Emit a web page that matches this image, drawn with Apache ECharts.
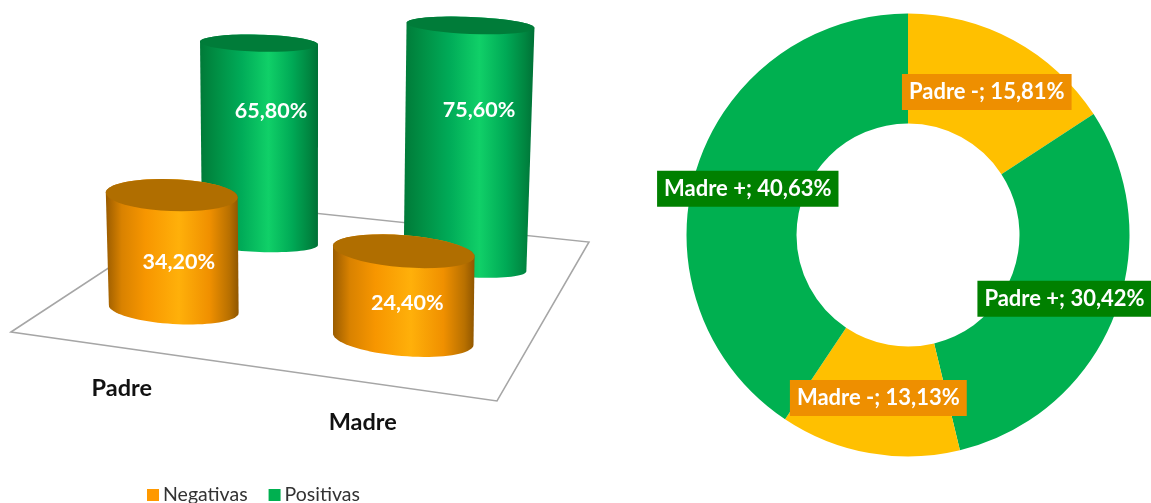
<!DOCTYPE html>
<html><head><meta charset="utf-8">
<style>html,body{margin:0;padding:0;background:#fff}#c{width:1151px;height:503px}</style>
<script src="https://cdn.jsdelivr.net/npm/echarts@6/dist/echarts.min.js"></script>
</head><body><div id="c"></div>
<script>
const categories = ['Padre', 'Madre'];
const negativas = [34.2, 24.4];
const positivas = [65.8, 75.6];
const sliceNames = ['Padre -', 'Padre +', 'Madre -', 'Madre +'];
const sliceValues = [15.81, 30.42, 13.13, 40.63];
const sliceFills = ['#ffc000', '#00b050', '#ffc000', '#00b050'];
const sliceLabelFills = ['#ee8f00', '#008000', '#ee8f00', '#008000'];
const sliceLabelNudges = [[-2, 6], [-1, 1], [0, -4], [2, 3]];

const FONT = 'Lato, "Open Sans", sans-serif';
const negLook = {
  side: [[0, '#9a5c00'], [0.12, '#d98200'], [0.3, '#f79600'], [0.55, '#ffb00a'], [0.78, '#f09000'], [0.93, '#b87000'], [1, '#8f5600']],
  cap: '#b06e00'
};
const posLook = {
  side: [[0, '#007a38'], [0.15, '#009045'], [0.35, '#00ab58'], [0.58, '#10d068'], [0.78, '#00aa56'], [0.93, '#008540'], [1, '#007036']],
  cap: '#007c39'
};
// Perspective of each cylinder on the floor
const negPerspective = [
  { dy: 0, scale: 1, lean: -2, rxTop: 66, rxBot: 65, ryTop: 16, ryBot: 15, tiltTop: 2.2, tiltBot: 3.5, lblX: 5, lblY: 47, nameX: -52, nameY: 79 },
  { dy: 30, scale: 1.08, lean: 0.5, rxTop: 71, rxBot: 70.5, ryTop: 16, ryBot: 17, tiltTop: 4.5, tiltBot: 4.8, lblX: 4, lblY: 36, nameX: -40.5, nameY: 83 }
];
const posPerspective = [
  { dy: 0, scale: 1, lean: -1, rxTop: 59, rxBot: 58, ryTop: 8.5, ryBot: 9, tiltTop: 1.5, tiltBot: 2, lblX: 11, lblY: 132 },
  { dy: 24, scale: 1.052, lean: 5.5, rxTop: 64, rxBot: 61.5, ryTop: 8.5, ryBot: 10, tiltTop: 2.3, tiltBot: 4, lblX: 14, lblY: 157 }
];

function ellipsePoint(cx, cy, rx, ry, deg, t) {
  const p = deg * Math.PI / 180;
  return [cx + rx * Math.cos(t) * Math.cos(p) - ry * Math.sin(t) * Math.sin(p),
          cy + rx * Math.cos(t) * Math.sin(p) + ry * Math.sin(t) * Math.cos(p)];
}
function arc(cx, cy, rx, ry, deg, from, to) {
  const pts = [];
  for (let i = 0; i <= 40; i++) pts.push(ellipsePoint(cx, cy, rx, ry, deg, from + (to - from) * i / 40));
  return pts;
}
function cylinder(look, persp, showName) {
  return function (params, api) {
    const i = api.value(0), v = api.value(1), g = persp[i];
    const base = api.coord([i, 0]), top = api.coord([i, v]);
    const bx = base[0], by = base[1] + g.dy;
    const tx = bx + g.lean, ty = by - (base[1] - top[1]) * g.scale;
    const lower = arc(bx, by, g.rxBot, g.ryBot, g.tiltBot, Math.PI, 0);
    const upper = arc(tx, ty, g.rxTop, g.ryTop, g.tiltTop, 0, -Math.PI);
    const cap = arc(tx, ty, g.rxTop, g.ryTop, g.tiltTop, 0, 2 * Math.PI);
    const stops = look.side.map(s => ({ offset: s[0], color: s[1] }));
    const children = [
      { type: 'polygon', shape: { points: lower.concat(upper) },
        style: { fill: new echarts.graphic.LinearGradient(0, 0, 1, 0, stops) } },
      { type: 'polygon', shape: { points: cap }, style: { fill: look.cap } },
      { type: 'text', style: { x: bx + g.lblX, y: by - g.lblY,
          text: v.toFixed(2).replace('.', ',') + '%', fill: '#fff',
          font: 'bold 21.5px ' + FONT, align: 'center', verticalAlign: 'middle' } }
    ];
    if (showName) children.push({ type: 'text', style: { x: bx + g.nameX, y: by + g.nameY,
        text: categories[i], fill: '#111', font: 'bold 23.5px ' + FONT,
        align: 'center', verticalAlign: 'middle' } });
    return { type: 'group', children };
  };
}
const hiddenX = idx => ({ type: 'category', gridIndex: idx, data: categories, show: false });

const chart = echarts.init(document.getElementById('c'), null, { renderer: 'canvas' });
chart.setOption({
  animation: false,
  backgroundColor: '#fff',
  textStyle: { fontFamily: FONT },
  legend: {
    data: ['Negativas', 'Positivas'], left: 142, top: 480, itemWidth: 12, itemHeight: 12,
    itemGap: 21, icon: 'rect',
    textStyle: { fontFamily: FONT, fontSize: 19.5, color: '#333', padding: [0, 0, 0, -1] }
  },
  graphic: [{
    type: 'polygon', z: 0, silent: true,
    shape: { points: [[11, 332], [209, 202], [589, 242], [497, 401]] },
    style: { fill: '#fff', stroke: '#a6a6a6', lineWidth: 1.5 }
  }],
  grid: [
    { left: 157.5, width: 410, top: -2.6, height: 245.6 },
    { left: 59, width: 459, top: 175.8, height: 133.2 }
  ],
  xAxis: [hiddenX(0), hiddenX(1)],
  yAxis: [
    { type: 'value', gridIndex: 0, min: 0, max: 80, show: false },
    { type: 'value', gridIndex: 1, min: 0, max: 40, show: false }
  ],
  series: [
    { type: 'custom', name: 'Positivas', xAxisIndex: 0, yAxisIndex: 0, z: 2,
      itemStyle: { color: '#00b050' }, encode: { x: 0, y: 1 },
      data: positivas.map((v, i) => [i, v]), renderItem: cylinder(posLook, posPerspective, false) },
    { type: 'custom', name: 'Negativas', xAxisIndex: 1, yAxisIndex: 1, z: 3,
      itemStyle: { color: '#ff9900' }, encode: { x: 0, y: 1 },
      data: negativas.map((v, i) => [i, v]), renderItem: cylinder(negLook, negPerspective, true) },
    { type: 'pie', center: [908, 235], radius: [111.5, 221.5], startAngle: 90, z: 4,
      labelLine: { show: false }, emphasis: { disabled: true },
      data: sliceNames.map((n, i) => ({
        name: n, value: sliceValues[i], itemStyle: { color: sliceFills[i] },
        label: { backgroundColor: sliceLabelFills[i], offset: sliceLabelNudges[i] }
      })),
      label: {
        show: true, position: 'inside', rotate: 0, color: '#fff', fontFamily: FONT,
        fontWeight: 'bold', fontSize: 22, padding: [7, 7, 7, 7],
        formatter: p => p.name + '; ' + p.value.toFixed(2).replace('.', ',') + '%'
      }
    }
  ]
});
</script></body></html>
